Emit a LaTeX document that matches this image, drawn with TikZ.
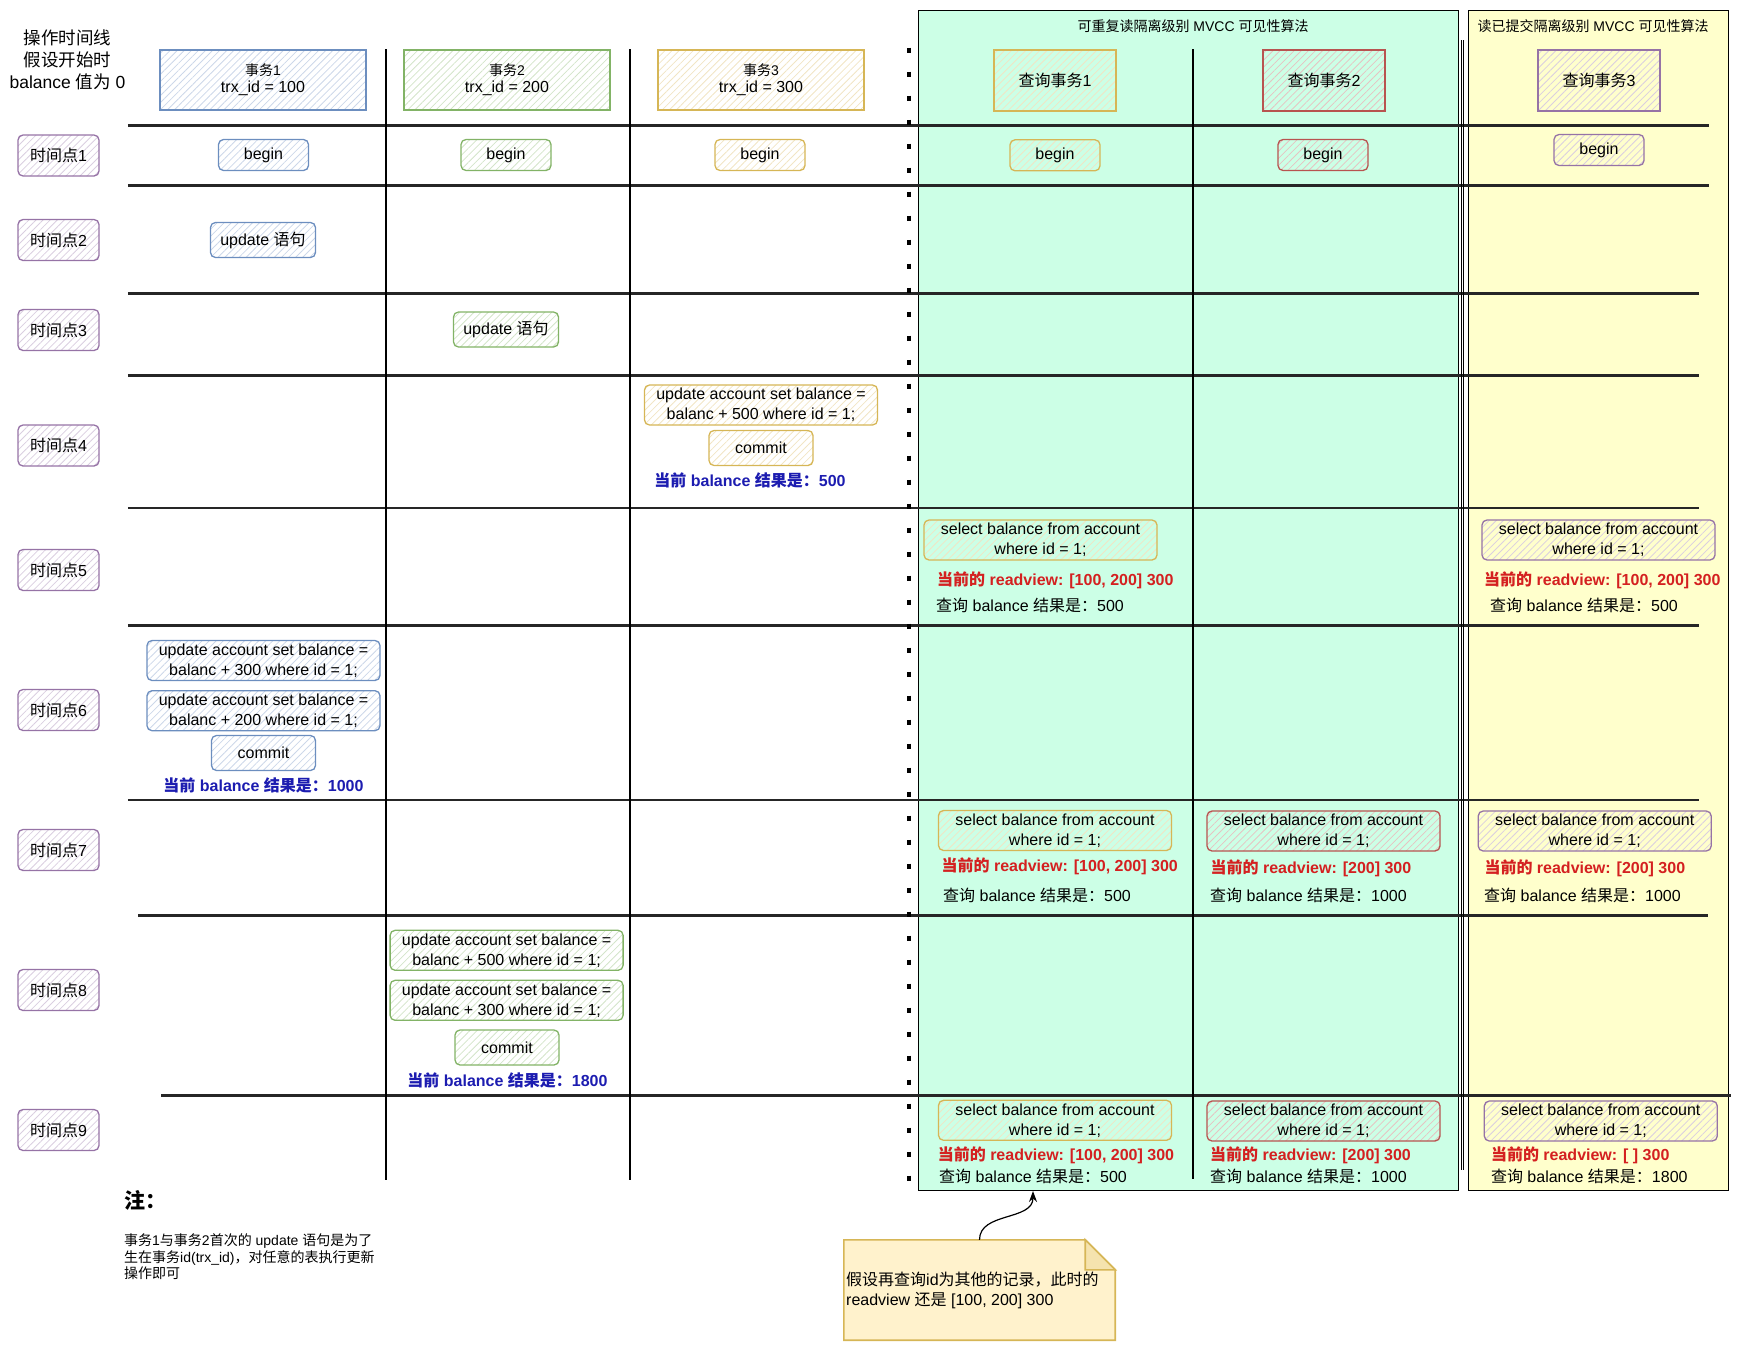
\documentclass[tikz,border=0pt]{standalone}
\usepackage{fontspec}
\setmainfont{Liberation Sans}
\newfontfamily\latinfont{Liberation Sans}
\newfontfamily\cjkfont{Noto Sans CJK SC}
\usetikzlibrary{patterns.meta,arrows.meta,backgrounds}

\newXeTeXintercharclass\cjkcls
\makeatletter
\count@="3000
\loop\XeTeXcharclass\count@=\cjkcls\advance\count@ by 1 \ifnum\count@<"3040 \repeat
\count@="4E00
\loop\XeTeXcharclass\count@=\cjkcls\advance\count@ by 1 \ifnum\count@<"A000 \repeat
\count@="FF00
\loop\XeTeXcharclass\count@=\cjkcls\advance\count@ by 1 \ifnum\count@<"FFF0 \repeat
\makeatother
\XeTeXinterchartoks 0 \cjkcls = {\cjkfont}
\XeTeXinterchartoks 4095 \cjkcls = {\cjkfont}
\XeTeXinterchartoks \cjkcls 0 = {\latinfont}
\XeTeXinterchartoks \cjkcls 4095 = {\latinfont}
\XeTeXinterchartokenstate=1

\definecolor{bluD}{HTML}{6C8EBF}
\definecolor{grnD}{HTML}{82B366}
\definecolor{ylwD}{HTML}{D6B656}
\definecolor{rdD}{HTML}{B85450}
\definecolor{lilD}{HTML}{9673A6}
\definecolor{ylwF}{HTML}{FFF2CC}
\definecolor{mint}{HTML}{CCFFE6}
\definecolor{lemon}{HTML}{FFFFCC}
\definecolor{rvred}{HTML}{D42020}
\definecolor{sumblue}{HTML}{1C1CB0}
\newcommand\fsz[2]{\fontsize{#1}{#2}\selectfont}

\tikzset{
  cellbox/.style={draw=#1D, line width=1.3pt, rounded corners=5pt, align=center, inner sep=0pt,
    pattern={Lines[angle=45,distance=5pt,line width=0.8pt]}, pattern color=#1D!35, font=\fsz{16}{20}},
  txhead/.style={cellbox=#1, rounded corners=0pt, line width=1.6pt, minimum width=206pt, minimum height=60pt, font=\fsz{16}{17}},
  qhead/.style={cellbox=#1, rounded corners=0pt, line width=2.2pt, minimum width=122pt, minimum height=61pt},
  tpoint/.style={cellbox=lil, minimum width=81pt, minimum height=41pt},
  beginbox/.style={cellbox=#1, minimum width=90pt, minimum height=31pt},
  stmtbox/.style={cellbox=#1, minimum width=105pt, minimum height=35pt},
  sqlbox/.style={cellbox=#1, minimum width=233pt, minimum height=40pt},
  commitbox/.style={cellbox=#1, minimum width=104pt, minimum height=35pt},
  rvlabel/.style={anchor=west, inner sep=0pt, text=rvred, font=\fsz{16}{19}\bfseries},
  qlabel/.style={anchor=west, inner sep=0pt, font=\fsz{16}{19}},
  sumlabel/.style={inner sep=0pt, text=sumblue, font=\fsz{16}{19}\bfseries},
  zone/.style={draw, line width=1pt, inner sep=0pt, outer sep=0pt},
  hline/.style={line width=2.4pt, draw=black!85},
  vline/.style={line width=2pt}
}

\begin{document}
\begin{tikzpicture}[x=1pt,y=-1pt]
\useasboundingbox (0,0) rectangle (1742,1352);
\node[zone, fill=mint, minimum width=539.7pt, minimum height=1180.7pt] (rr) at (1188.65,600.35) {};
\node[zone, fill=lemon, minimum width=260.5pt, minimum height=1180.7pt] (rc) at (1598.45,600.35) {};
\node[font=\fsz{14}{17}] (rrtitle) at (1193,26) {可重复读隔离级别 MVCC 可见性算法};
\node[font=\fsz{14}{17}] (rctitle) at (1593,26) {读已提交隔离级别 MVCC 可见性算法};

\draw[hline] (127.8,125.5) -- (1709,125.5);
\draw[hline] (127.8,185.5) -- (1709,185.5);
\draw[hline] (127.8,293.3) -- (1699,293.3);
\draw[hline] (127.8,375.5) -- (1699,375.5);
\draw[hline] (127.8,507.7) -- (1699,507.7);
\draw[hline] (127.8,625.5) -- (1699,625.5);
\draw[hline] (127.8,800) -- (1699,800);
\draw[hline] (138,915.4) -- (1708,915.4);
\draw[hline] (161,1095.4) -- (1731,1095.4);
\draw[vline] (385.5,49) -- (385.5,1180);
\draw[vline] (630,49) -- (630,1180);
\draw[vline] (1193,49) -- (1193,1179);
\draw[line width=1pt] (1461.2,40) -- (1461.2,1170);
\draw[line width=1pt] (1463.9,40) -- (1463.9,1170);
\draw[line width=4.5pt, dash pattern=on 5pt off 19pt] (909,47.5) -- (909,1180.5);

\node[align=center, font=\fsz{17.5}{21.7}] (intro) at (67.5,60) {操作时间线\\假设开始时\\balance 值为 0};

\node[txhead=blu] (tx1) at (263,80) {{\fsz{14}{17}事务1}\\trx\_id = 100};
\node[txhead=grn] (tx2) at (507,80) {{\fsz{14}{17}事务2}\\trx\_id = 200};
\node[txhead=ylw] (tx3) at (761,80) {{\fsz{14}{17}事务3}\\trx\_id = 300};
\node[qhead=ylw] (q1) at (1055,80.5) {查询事务1};
\node[qhead=rd] (q2) at (1324,80.5) {查询事务2};
\node[qhead=lil] (q3) at (1599,80.5) {查询事务3};

\node[tpoint] (tp1) at (58.5,155.5) {时间点1};
\node[tpoint] (tp2) at (58.5,240) {时间点2};
\node[tpoint] (tp3) at (58.5,330) {时间点3};
\node[tpoint] (tp4) at (58.5,445.5) {时间点4};
\node[tpoint] (tp5) at (58.5,570) {时间点5};
\node[tpoint] (tp6) at (58.5,710) {时间点6};
\node[tpoint] (tp7) at (58.5,850) {时间点7};
\node[tpoint] (tp8) at (58.5,990) {时间点8};
\node[tpoint] (tp9) at (58.5,1130) {时间点9};

\node[beginbox=blu] (b1) at (263.5,155) {begin};
\node[beginbox=grn] (b2) at (506,155) {begin};
\node[beginbox=ylw] (b3) at (760,155) {begin};
\node[beginbox=ylw] (qb1) at (1055,155.3) {begin};
\node[beginbox=rd] (qb2) at (1323,155) {begin};
\node[beginbox=lil] (qb3) at (1599,150) {begin};

\node[stmtbox=blu] (t1stmt) at (263,240) {update 语句};
\node[stmtbox=grn] (t2stmt) at (506,329.5) {update 语句};

\node[sqlbox=ylw] (t3upd) at (761,405) {update account set balance =\\balanc + 500 where id = 1;};
\node[commitbox=ylw] (t3com) at (761,448) {commit};
\node[sumlabel] (t3sum) at (750,480) {当前 balance 结果是：500};

\node[sqlbox=ylw] (q1sel5) at (1040.5,540) {select balance from account\\where id = 1;};
\node[rvlabel] (q1rv5) at (937,580) {当前的 readview: [100, 200] 300};
\node[qlabel] (q1res5) at (936,605.5) {查询 balance 结果是：500};
\node[sqlbox=lil] (q3sel5) at (1598.5,540) {select balance from account\\where id = 1;};
\node[rvlabel] (q3rv5) at (1484,580) {当前的 readview: [100, 200] 300};
\node[qlabel] (q3res5) at (1490,605.5) {查询 balance 结果是：500};

\node[sqlbox=blu] (t1upd1) at (263.5,660.5) {update account set balance =\\balanc + 300 where id = 1;};
\node[sqlbox=blu] (t1upd2) at (263.5,710.7) {update account set balance =\\balanc + 200 where id = 1;};
\node[commitbox=blu] (t1com) at (263.5,753) {commit};
\node[sumlabel] (t1sum) at (263.5,785) {当前 balance 结果是：1000};

\node[sqlbox=ylw] (q1sel7) at (1055,830.5) {select balance from account\\where id = 1;};
\node[rvlabel] (q1rv7) at (941.4,866) {当前的 readview: [100, 200] 300};
\node[qlabel] (q1res7) at (943,895) {查询 balance 结果是：500};
\node[sqlbox=rd] (q2sel7) at (1323.5,831) {select balance from account\\where id = 1;};
\node[rvlabel] (q2rv7) at (1210.4,868.3) {当前的 readview: [200] 300};
\node[qlabel] (q2res7) at (1210,895) {查询 balance 结果是：1000};
\node[sqlbox=lil] (q3sel7) at (1594.7,831) {select balance from account\\where id = 1;};
\node[rvlabel] (q3rv7) at (1484.3,868) {当前的 readview: [200] 300};
\node[qlabel] (q3res7) at (1484,895) {查询 balance 结果是：1000};

\node[sqlbox=grn] (t2upd1) at (506.6,950.3) {update account set balance =\\balanc + 500 where id = 1;};
\node[sqlbox=grn] (t2upd2) at (506.6,1000.3) {update account set balance =\\balanc + 300 where id = 1;};
\node[commitbox=grn] (t2com) at (507,1047.5) {commit};
\node[sumlabel] (t2sum) at (507.5,1080) {当前 balance 结果是：1800};

\node[sqlbox=ylw] (q1sel9) at (1055,1120.3) {select balance from account\\where id = 1;};
\node[rvlabel] (q1rv9) at (937.6,1155) {当前的 readview: [100, 200] 300};
\node[qlabel] (q1res9) at (939,1176) {查询 balance 结果是：500};
\node[sqlbox=rd] (q2sel9) at (1323.5,1121) {select balance from account\\where id = 1;};
\node[rvlabel] (q2rv9) at (1210,1155) {当前的 readview: [200] 300};
\node[qlabel] (q2res9) at (1210,1176) {查询 balance 结果是：1000};
\node[sqlbox=lil] (q3sel9) at (1600.8,1121) {select balance from account\\where id = 1;};
\node[rvlabel] (q3rv9) at (1490.8,1155) {当前的 readview: [ ] 300};
\node[qlabel] (q3res9) at (1490.8,1176) {查询 balance 结果是：1800};

\node[anchor=west, inner sep=0pt, font=\fsz{21}{25}\bfseries] (notehead) at (124,1200) {注：};
\node[anchor=west, inner sep=0pt, align=left, font=\fsz{14}{16.7}] (notebody) at (124,1256.7) {事务1与事务2首次的 update 语句是为了\\生在事务id(trx\_id)，对任意的表执行更新\\操作即可};

\node[minimum width=271pt, minimum height=100pt, inner sep=0pt] (memo) at (979.5,1290) {};
\node[anchor=west, inner sep=0pt, align=left, font=\fsz{16}{20}] (memotext) at (846,1290) {假设再查询id为其他的记录，此时的\\readview 还是 [100, 200] 300};
\begin{pgfonlayer}{background}
\draw[draw=ylwD, fill=ylwF, line width=1.6pt] (memo.south west) -- (memo.north west) -- ([xshift=-30pt]memo.north east) -- ([yshift=-30pt]memo.north east) -- (memo.south east) -- cycle;
\draw[draw=ylwD, fill=ylwF!75!ylwD, line width=1.6pt] ([xshift=-30pt]memo.north east) -- ([xshift=-30pt,yshift=-30pt]memo.north east) -- ([yshift=-30pt]memo.north east) -- cycle;
\end{pgfonlayer}
\coordinate (tip) at (1033,1191);
\draw[-{Stealth[length=11pt,width=8pt]}, line width=1.2pt] (memo.north) .. controls +(0,-28) and +(0,30) .. (tip);
\end{tikzpicture}
\end{document}
